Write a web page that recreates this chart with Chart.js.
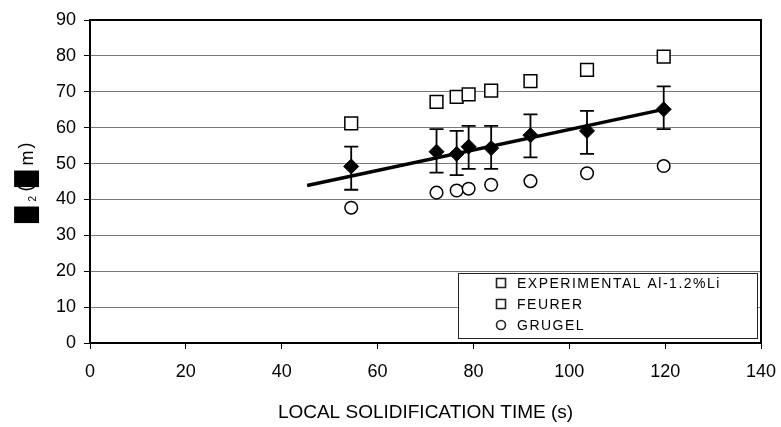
<!DOCTYPE html>
<html>
<head>
<meta charset="utf-8">
<script src="https://cdn.jsdelivr.net/npm/chart.js@4"></script>
<style>
  html, body { margin: 0; background: #fff; }
  #wrap { width: 781px; height: 427px; }
</style>
</head>
<body>
<div id="wrap"><canvas id="chart"></canvas></div>
<script>
// datos
const timeS     = [54.5, 72.3, 76.5, 79.0, 83.7, 91.9, 103.7, 119.7];
const expLambda = [49.2, 53.3, 52.7, 54.7, 54.3, 57.9, 59.1, 65.1];
const expHi     = [54.7, 59.6, 59.1, 60.5, 60.5, 63.7, 64.7, 71.5];
const expLo     = [42.7, 47.5, 46.8, 48.5, 48.5, 51.7, 52.7, 59.6];
const feurer    = [61.2, 67.2, 68.6, 69.3, 70.3, 73.0, 76.1, 79.8];
const grugel    = [37.7, 41.9, 42.5, 43.0, 44.1, 45.1, 47.3, 49.3];
const fitX      = [45.3, 119.7];
const fitY      = [43.9, 65.1];
const legendLabels = ["EXPERIMENTAL Al-1.2%Li", "FEURER", "GRUGEL"];
const legendMarks  = ["rect", "rect", "circle"];
const xTitle = "LOCAL SOLIDIFICATION TIME (s)";
// título Y: glifos faltantes (cajas negras) como en el original
const yTitleParts = [
  { t: "\u2588", size: 21, fam: "'DejaVu Sans'", cx: 26.5, cy: 215 },
  { t: "2",      size: 10, fam: null,            cx: 31.5, cy: 198.5 },
  { t: "(",      size: 18, fam: null,            cx: 26,   cy: 188 },
  { t: "\u2588", size: 21, fam: "'DejaVu Sans'", cx: 26.5, cy: 179 },
  { t: "m",      size: 18, fam: null,            cx: 27.5, cy: 158 },
  { t: ")",      size: 18, fam: null,            cx: 26,   cy: 146 }
];

const FONT = "'Liberation Sans', Arial, sans-serif";
const pts = (xs, ys) => xs.map((x, i) => ({ x, y: ys[i] }));

// barras de error (verticales con tope)
const errorBars = {
  id: "errorBars",
  beforeDatasetsDraw(chart) {
    const { ctx, scales: { x, y } } = chart;
    ctx.save();
    ctx.strokeStyle = "#000";
    ctx.lineWidth = 1.8;
    timeS.forEach((t, i) => {
      const px = x.getPixelForValue(t);
      const top = y.getPixelForValue(expHi[i]);
      const bot = y.getPixelForValue(expLo[i]);
      ctx.beginPath();
      ctx.moveTo(px, top); ctx.lineTo(px, bot);
      ctx.moveTo(px - 7, top); ctx.lineTo(px + 7, top);
      ctx.moveTo(px - 7, bot); ctx.lineTo(px + 7, bot);
      ctx.stroke();
    });
    ctx.restore();
  }
};

// marco sup/der, leyenda en caja y título Y
const frameLegend = {
  id: "frameLegend",
  afterDraw(chart) {
    const { ctx, chartArea: a } = chart;
    ctx.save();
    ctx.strokeStyle = "#000";
    ctx.lineWidth = 2;
    ctx.beginPath();
    ctx.moveTo(a.left, a.top); ctx.lineTo(a.right, a.top); ctx.lineTo(a.right, a.bottom);
    ctx.stroke();

    const bx = a.right - 303, by = a.bottom - 70, bw = 299, bh = 65;
    ctx.fillStyle = "#fff";
    ctx.fillRect(bx, by, bw, bh);
    ctx.strokeStyle = "#222";
    ctx.lineWidth = 1;
    ctx.strokeRect(bx + 0.5, by + 0.5, bw, bh);

    ctx.font = "14px " + FONT;
    ctx.textBaseline = "middle";
    ctx.fillStyle = "#000";
    if ("letterSpacing" in ctx) ctx.letterSpacing = "1.5px";
    legendLabels.forEach((lab, i) => {
      const cy = by + 10 + i * 21;
      const mx = bx + 43;
      ctx.lineWidth = 1.6;
      ctx.beginPath();
      if (legendMarks[i] === "circle") ctx.arc(mx, cy, 4.5, 0, Math.PI * 2);
      else ctx.rect(mx - 4.5, cy - 4.5, 9, 9);
      ctx.stroke();
      ctx.fillText(lab, bx + 59, cy + 1);
    });
    if ("letterSpacing" in ctx) ctx.letterSpacing = "0px";

    // título Y girado, pieza por pieza
    ctx.rotate(-Math.PI / 2);
    ctx.textBaseline = "alphabetic";
    ctx.textAlign = "left";
    yTitleParts.forEach(p => {
      ctx.font = p.size + "px " + (p.fam || FONT);
      const m = ctx.measureText(p.t);
      const w = m.actualBoundingBoxLeft + m.actualBoundingBoxRight;
      const u = -p.cy - w / 2 + m.actualBoundingBoxLeft;
      const v = p.cx - (m.actualBoundingBoxDescent - m.actualBoundingBoxAscent) / 2;
      ctx.fillText(p.t, u, v);
    });
    ctx.restore();
  }
};

new Chart(document.getElementById("chart"), {
  type: "scatter",
  data: {
    datasets: [
      { type: "line", data: pts(fitX, fitY), borderColor: "#000", borderWidth: 3.5,
        pointRadius: 0, fill: false, tension: 0 },
      { data: pts(timeS, expLambda), pointStyle: "rectRot", pointRadius: 7.5,
        backgroundColor: "#000", borderColor: "#000", borderWidth: 1 },
      { data: pts(timeS, feurer), pointStyle: "rect", pointRadius: 9,
        backgroundColor: "#fff", borderColor: "#000", borderWidth: 1.5 },
      { data: pts(timeS, grugel), pointStyle: "circle", pointRadius: 6.3,
        backgroundColor: "#fff", borderColor: "#000", borderWidth: 1.5 }
    ]
  },
  options: {
    responsive: true,
    maintainAspectRatio: false,
    animation: false,
    events: [],
    layout: { padding: { left: 0, top: 20, right: 20, bottom: 0 } },
    plugins: { legend: { display: false }, tooltip: { enabled: false } },
    scales: {
      x: {
        min: 0, max: 140,
        ticks: { stepSize: 20, color: "#000", padding: 12, font: { family: FONT, size: 18 } },
        grid: { drawOnChartArea: false, drawTicks: true, tickLength: 6, tickColor: "#000", tickWidth: 1 },
        border: { color: "#000", width: 2 },
        title: { display: true, text: xTitle, color: "#000", font: { family: FONT, size: 19 },
                 padding: { top: 0, bottom: 3 } },
        afterFit: (s) => { s.height = 84; s.paddingLeft = 0; s.paddingRight = 0; }
      },
      y: {
        min: 0, max: 90,
        ticks: { stepSize: 10, color: "#000", padding: 8, font: { family: FONT, size: 18 } },
        grid: { color: "#7a7a7a", lineWidth: 1, drawTicks: true, tickLength: 6, tickColor: "#000" },
        border: { color: "#000", width: 2 },
        title: { display: false },
        afterFit: (s) => { s.width = 90; s.paddingTop = 0; s.paddingBottom = 0; }
      }
    }
  },
  plugins: [errorBars, frameLegend]
});
</script>
</body>
</html>
